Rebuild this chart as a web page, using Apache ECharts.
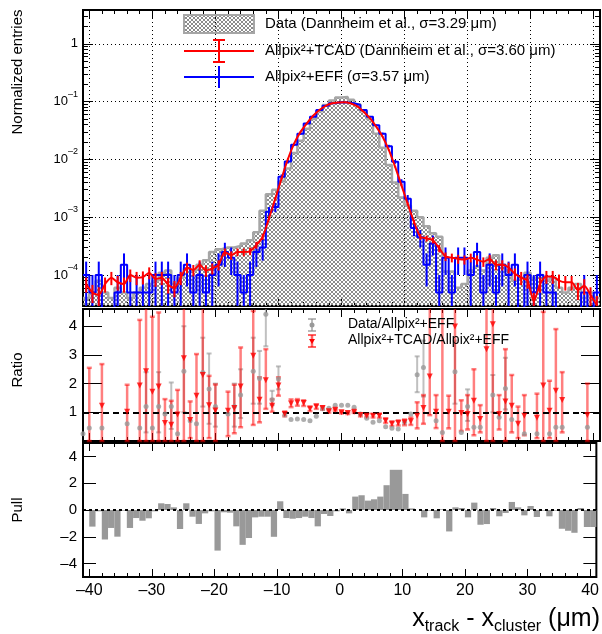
<!DOCTYPE html>
<html>
<head>
<meta charset="utf-8">
<script src="https://cdn.jsdelivr.net/npm/echarts@6.0.0/dist/echarts.min.js"></script>
<style>
html,body{margin:0;padding:0;background:#fff;}
#chart{width:602px;height:634px;}
</style>
</head>
<body>
<div id="chart"></div>
<script>
// ================= DATA =================
// bins of 1 um from -41 to 41 (lower edges)
const binLowEdges = [];
for (let b = -41; b <= 40; b++) binLowEdges.push(b);
const binWidth = 1;

// Data (Dannheim et al.), normalized entries per bin
const dataVals = [
  4e-5, 5e-5, 8e-5, 5e-5, 4e-5, 6e-5, 5e-5, 4e-5, 5e-5, 6e-5,
  7e-5, 8e-5, 1.1e-4, 1.2e-4, 7e-5, 9e-5, 1.3e-4, 1.2e-4, 1.5e-4, 1.8e-4,
  2.5e-4, 2.8e-4, 3e-4, 3e-4, 3.2e-4, 3.5e-4, 4e-4, 5.5e-4, 1.3e-3, 2.5e-3,
  3.0e-3, 4.2e-3, 7e-3, 0.013, 0.021, 0.034, 0.05, 0.068, 0.088, 0.105,
  0.118, 0.12, 0.108, 0.09, 0.068, 0.05, 0.028, 0.016, 0.008, 0.004,
  0.0022, 0.0016, 0.0013, 0.001, 7e-4, 5.3e-4, 4.6e-4, 1.15e-4, 1.15e-4, 6e-5,
  7e-5, 1.2e-4, 1.4e-4, 1.2e-4, 2e-4, 2.2e-4, 1.5e-4, 1.2e-4, 8e-5, 9e-5,
  1.1e-4, 9e-5, 1e-4, 8e-5, 9e-5, 6e-5, 5e-5, 6e-5, 7e-5, 4e-5,
  5e-5, 4e-5
];
// Allpix2 + EFF
const effVals = [
  1e-4, 5e-5, 1e-4, 0, 0, 5e-5, 1.5e-4, 5e-5, 5e-5, 5e-5,
  5e-5, 1e-4, 1e-4, 1e-4, 5e-5, 1e-4, 1.5e-4, 5e-5, 1e-4, 5e-5,
  1e-4, 1.5e-4, 2.5e-4, 2e-4, 1e-4, 5e-5, 1e-4, 2.5e-4, 3e-4, 1.25e-3,
  1.5e-3, 5e-3, 9.2e-3, 0.018, 0.028, 0.042, 0.055, 0.072, 0.085, 0.094,
  0.098, 0.097, 0.094, 0.088, 0.072, 0.055, 0.039, 0.028, 0.017, 0.0091,
  0.0041, 0.0021, 6.5e-4, 4.5e-4, 1.5e-4, 3.5e-4, 5e-5, 2e-4, 5e-5, 2e-4,
  2e-4, 1e-4, 2.5e-4, 5e-5, 1.5e-4, 5e-5, 1.5e-4, 1e-4, 1.5e-4, 0,
  1e-4, 5e-5, 1e-4, 5e-5, 5e-5, 0, 0, 0, 0, 5e-5,
  0, 5e-5
];
// Allpix2 + TCAD
const tcadVals = [
  7e-5, 5e-5, 4.5e-5, 7e-5, 9e-5, 7.5e-5, 7e-5, 1e-4, 9e-5, 9.2e-5,
  1.1e-4, 8.5e-5, 9e-5, 6.8e-5, 6e-5, 9e-5, 1.35e-4, 1.22e-4, 1.5e-4, 1.2e-4,
  1.3e-4, 1.5e-4, 2.5e-4, 2.2e-4, 2.5e-4, 2.5e-4, 2.6e-4, 3.3e-4, 4.6e-4, 9.6e-4,
  2.1e-3, 4.7e-3, 0.0102, 0.019, 0.030, 0.042, 0.057, 0.072, 0.085, 0.094,
  0.097, 0.098, 0.093, 0.083, 0.067, 0.052, 0.037, 0.025, 0.0146, 0.0075,
  0.0036, 1.7e-3, 8.3e-4, 4.6e-4, 4.3e-4, 4.0e-4, 2.9e-4, 2.1e-4, 2.0e-4, 1.9e-4,
  1.85e-4, 2.0e-4, 1.85e-4, 1.7e-4, 1.9e-4, 1.5e-4, 1.5e-4, 1.35e-4, 1.05e-4, 9e-5,
  8e-5, 3.5e-5, 7e-5, 9.4e-5, 9.4e-5, 8e-5, 7.5e-5, 7.5e-5, 5.5e-5, 6.5e-5,
  4.5e-5, 3e-5
];
// weight of one entry (for Poisson error bars)
const effEntryWeight = 5e-5;
const tcadEntryWeight = 6e-6;

// Ratio panel, points at x = -41 ... 40
const ratioX = binLowEdges;
const ratioDataVals = [
  0.25, 0.45, null, 0.45, null, null, null, 0.6, null, 0.45,
  1.2, 0.45, 1.2, 0.94, 1.2, 0.25, 2.43, 0.71, 0.6, 2.39,
  1.81, 1.2, null, 0.94, 1.2, 1.6, null, 2.43, 2.18, 4.42,
  1.44, 2.16, 0.91, 0.75, 0.77, 0.75, 0.71, 0.86, 1.12, 1.14,
  1.25, 1.25, 1.25, 1.18, 0.94, 0.79, 0.65, 0.71, 0.5, 0.44,
  0.42, 0.65, 0.94, 2.31, 2.56, null, 0.71, 0.3, null, 2.41,
  0.3, 1.2, 0.48, 0.48, null, 1.6, 0.83, 1.83, 0.75, null,
  0.25, null, 0.25, null, 0.25, 0.48, 0.48, null, null, null,
  0.48, null
];
const ratioDataLo = [
  null, null, null, null, null, null, null, null, null, null,
  0.3, null, 0.3, null, 0.42, null, 1.0, null, null, 1.2,
  0.6, 0.5, null, null, 0.5, 0.8, null, 1.3, 1.3, 3.3,
  1.25, 1.8, null, null, null, null, null, null, null, null,
  null, null, null, null, null, null, null, null, null, null,
  null, null, null, 1.7, 1.55, null, null, null, null, 1.3,
  null, 0.7, null, null, null, 1.0, null, 1.1, null, null,
  null, null, null, null, null, null, null, null, null, null,
  null, null
];
const ratioDataHi = [
  null, null, null, null, null, null, null, null, null, null,
  2.4, null, 2.4, null, 2.04, null, 4.0, null, null, 3.6,
  3.05, 2.0, null, null, 2.0, 2.5, null, 3.6, 3.14, 5.0,
  1.75, 2.6, null, null, null, null, null, null, null, null,
  null, null, null, null, null, null, null, null, null, null,
  null, null, null, 2.95, 3.5, null, null, null, null, 3.5,
  null, 1.8, null, null, null, 2.3, null, 2.9, null, null,
  null, null, null, null, null, null, null, null, null, null,
  null, null
];
const ratioTcadVals = [
  null, null, null, 1.23, null, null, null, 1.02, null, 1.93,
  2.43, 1.72, 1.9, 0.63, 0.57, 0.92, 2.88, 0.73, 1.58, 2.3,
  1.25, 1.06, null, 1.05, 1.15, 1.9, null, 2.97, 1.44, 2.12,
  1.23, 1.93, 0.94, 1.31, 1.34, 1.32, 1.12, 1.2, 1.15, 1.04,
  1.09, 1.0, 0.98, 1.02, 0.91, 0.88, 0.88, 0.88, 0.71, 0.6,
  0.63, 0.65, 0.69, 0.88, 1.15, 2.25, 1.02, 5.0, 1.02, 3.99,
  0.98, 0.94, 1.4, 0.77, 3.2, 4.07, 0.94, 1.38, 1.23, 0.6,
  0.88, null, 0.81, 1.93, 1.05, 1.75, 1.43, null, null, null,
  0.91, null
];
const ratioTcadLo = [
  null, 0, null, 0, null, null, null, 0, null, 0,
  0, 0, 0, 0, 0, 0, 0, 0.1, 0, 0,
  0.1, 0, null, 0.17, 0.27, 0.48, null, 0.56, 0.65, 1.12,
  1.02, 1.58, 0.86, 1.18, 1.23, 1.22, 1.04, 1.12, 1.09, 0.99,
  1.05, 0.96, 0.94, 0.98, 0.86, 0.83, 0.82, 0.81, 0.63, 0.52,
  0.54, 0.55, 0.56, 0.44, 0.6, 0.9, 0.45, 0, 0.44, 0,
  0.35, 0.4, 0.2, 0.3, 0, 0, 0.4, 0, 0.3, 0.1,
  0.2, null, 0.1, 0, 0.1, 0, 0.3, null, null, null,
  0, null
];
const ratioTcadHi = [
  null, 2.55, null, 2.68, null, null, null, 1.96, null, 4.22,
  4.7, 4.33, 4.48, 1.46, 1.4, 1.78, 4.7, 1.38, 3.03, 4.7,
  2.27, 1.97, null, 1.72, 1.96, 3.26, null, 4.53, 2.22, 3.2,
  1.46, 2.22, 1.03, 1.45, 1.46, 1.42, 1.2, 1.27, 1.21, 1.09,
  1.13, 1.04, 1.02, 1.06, 0.96, 0.93, 0.94, 0.95, 0.79, 0.68,
  0.72, 0.75, 0.82, 1.35, 1.6, 4.7, 1.6, 4.7, 1.58, 4.7,
  1.42, 1.6, 2.5, 1.25, 4.7, 4.7, 1.6, 3.2, 2.3, 1.2,
  1.6, null, 1.65, 4.5, 2.1, 3.9, 2.4, null, null, null,
  2.0, null
];

// Pull per bin
const pullVals = [
  0, -1.24, -0.1, -2.2, -1.34, -1.99, -0.05, -1.34, -0.6, -0.8,
  -0.62, -0.1, 0.5, 0.45, 0.2, -1.42, 0.5, -0.5, -1.04, -0.25,
  -0.1, -3.03, -0.17, -0.2, -1.22, -2.6, -2.09, -0.55, -0.5, -0.5,
  -2.0, 0.65, -0.6, -0.65, -0.6, -0.5, -0.6, -1.22, -0.3, -0.45,
  -0.1, 0.12, -0.25, 1.0, 1.1, 0.7, 0.8, 1.0, 1.85, 3.0,
  3.0, 1.2, 0.12, 0, -0.55, -0.05, -0.62, 0.05, -1.6, 0.2,
  0.15, -0.55, 0.55, -1.1, -1.05, 0.15, -0.47, -0.22, 0.6, 0.2,
  -0.4, 0.3, -0.52, -0.05, -0.47, -0.05, -1.4, -1.55, -1.7, 0.15,
  -1.27, -1.27
];

// tick labels
const xTickLabels = [-40, -30, -20, -10, 0, 10, 20, 30, 40];
const xMinorTicks = [];
for (let t = -40; t <= 40; t += 2) xMinorTicks.push(t);
const topDecades = [-4, -3, -2, -1, 0];          // log10 of 1e-4 ... 1
const ratioTicks = [1, 2, 3, 4];
const pullTicks = [-4, -2, 0, 2, 4];

// ================= LAYOUT / STYLE =================
const FONT = '"Liberation Sans", Arial, Helvetica, sans-serif';
const X_MIN = -41, X_MAX = 41;
const TOP_LOG_MIN = -4.536, TOP_LOG_MAX = 0.587;
const RATIO_MIN = 0, RATIO_MAX = 4.6;
const PULL_MIN = -5, PULL_MAX = 5;
const FLOOR = 1e-9;

const topMinor = [];
for (let d = -5; d <= 0; d++) for (let m = 2; m <= 9; m++) {
  const v = d + Math.log10(m);
  if (v > TOP_LOG_MIN && v < TOP_LOG_MAX) topMinor.push(v);
}

const hatchCanvas = (function () {
  const c = document.createElement('canvas'); c.width = 4; c.height = 4;
  const g = c.getContext('2d');
  g.strokeStyle = '#8c8c8c'; g.lineWidth = 1;
  g.beginPath(); g.moveTo(0, 0); g.lineTo(4, 4); g.moveTo(4, 0); g.lineTo(0, 4); g.stroke();
  return c;
})();
const hatch = { image: hatchCanvas, repeat: 'repeat' };

const grids = [
  { left: 83, top: 10, width: 517, height: 296 },
  { left: 83, top: 309, width: 517, height: 132 },
  { left: 83, top: 443, width: 517, height: 134 }
].map(g => Object.assign({ show: true, borderColor: '#000', borderWidth: 2, backgroundColor: 'rgba(0,0,0,0)' }, g));

const minusFmt = v => (v < 0 ? '\u2013' + (-v) : String(v));
const xAxes = [], yAxes = [];
function addX(grid, pos, ticks, len, extra) {
  xAxes.push(Object.assign({
    type: 'value', gridIndex: grid, position: pos, min: X_MIN, max: X_MAX,
    axisLine: { show: false, onZero: false },
    axisTick: { show: true, inside: true, length: len, customValues: ticks, lineStyle: { color: '#000', width: 1 } },
    axisLabel: { show: false }, splitLine: { show: false }
  }, extra || {}));
  return xAxes.length - 1;
}
function addY(grid, pos, min, max, ticks, len, extra) {
  yAxes.push(Object.assign({
    type: 'value', gridIndex: grid, position: pos, min: min, max: max,
    axisLine: { show: false, onZero: false },
    axisTick: { show: true, inside: true, length: len, customValues: ticks, lineStyle: { color: '#000', width: 1 } },
    axisLabel: { show: false }, splitLine: { show: false }
  }, extra || {}));
  return yAxes.length - 1;
}
const dotted = { show: true, lineStyle: { color: '#000', width: 1, type: [1, 3] } };

// top panel axes
const X_TOP = addX(0, 'bottom', xTickLabels, 8, { splitLine: dotted });
addX(0, 'bottom', xMinorTicks, 4);
addX(0, 'top', xTickLabels, 8);
addX(0, 'top', xMinorTicks, 4);
addY(0, 'left', TOP_LOG_MIN, TOP_LOG_MAX, topDecades, 10, {
  splitLine: dotted,
  axisLabel: {
    show: true, customValues: topDecades, margin: 5, color: '#000',
    formatter: v => (v === 0 ? '{b|1}' : '{b|10}{s|\u2013' + (-v) + '}'),
    rich: { b: { fontSize: 13, lineHeight: 24, fontFamily: FONT, color: '#000' },
            s: { fontSize: 9, lineHeight: 9, verticalAlign: 'top', fontFamily: FONT, color: '#000' } }
  }
});
addY(0, 'left', TOP_LOG_MIN, TOP_LOG_MAX, topMinor, 5);
addY(0, 'right', TOP_LOG_MIN, TOP_LOG_MAX, topDecades, 10);
addY(0, 'right', TOP_LOG_MIN, TOP_LOG_MAX, topMinor, 5);
yAxes.push({ type: 'log', logBase: 10, gridIndex: 0, min: Math.pow(10, TOP_LOG_MIN), max: Math.pow(10, TOP_LOG_MAX), show: false,
  axisLine: { onZero: false } });
const Y_TOP_DATA = yAxes.length - 1;

// ratio panel axes
const X_RATIO = addX(1, 'bottom', xTickLabels, 8);
addX(1, 'bottom', xMinorTicks, 4);
addX(1, 'top', xTickLabels, 8);
addX(1, 'top', xMinorTicks, 4);
const Y_RATIO = addY(1, 'left', RATIO_MIN, RATIO_MAX, ratioTicks, 19, {
  axisLabel: { show: true, customValues: ratioTicks, margin: 6, fontSize: 15, fontFamily: FONT, color: '#000' }
});
addY(1, 'right', RATIO_MIN, RATIO_MAX, ratioTicks, 19);

// pull panel axes
const X_PULL = addX(2, 'bottom', xTickLabels, 8, {
  axisLabel: { show: true, customValues: xTickLabels, margin: 6, fontSize: 16, fontFamily: FONT, color: '#000', formatter: minusFmt }
});
addX(2, 'bottom', xMinorTicks, 4);
addX(2, 'top', xTickLabels, 8);
addX(2, 'top', xMinorTicks, 4);
const Y_PULL = addY(2, 'left', PULL_MIN, PULL_MAX, pullTicks, 13, {
  axisLabel: { show: true, customValues: pullTicks, margin: 6, fontSize: 15, fontFamily: FONT, color: '#000', formatter: minusFmt }
});
addY(2, 'right', PULL_MIN, PULL_MAX, pullTicks, 13);

// ================= SERIES =================
function stepPoints(vals) {
  const pts = [];
  vals.forEach((v, i) => {
    const y = v > 0 ? v : FLOOR;
    pts.push([binLowEdges[i], y], [binLowEdges[i] + binWidth, y]);
  });
  return pts;
}
const centers = binLowEdges.map(b => b + binWidth / 2);

function errBarItem(color, width, cap, isLog) {
  return function (params, api) {
    const cs = params.coordSys;
    const top = cs.y, bot = cs.y + cs.height;
    const x = api.value(0), lo = api.value(1), hi = api.value(2);
    const px = api.coord([x, isLog ? Math.max(hi, FLOOR) : hi])[0];
    let y1 = (isLog && hi <= 0) ? bot : api.coord([x, hi])[1];
    let y2 = (isLog && lo <= 0) ? bot : api.coord([x, lo])[1];
    const capTop = y1 >= top && y1 <= bot;
    const capBot = y2 >= top && y2 <= bot;
    y1 = Math.max(top, Math.min(bot, y1));
    y2 = Math.max(top, Math.min(bot, y2));
    const st = { stroke: color, lineWidth: width };
    const ch = [{ type: 'line', shape: { x1: px, y1: y1, x2: px, y2: y2 }, style: st }];
    if (cap > 0) {
      if (capTop) ch.push({ type: 'line', shape: { x1: px - cap, y1: y1, x2: px + cap, y2: y1 }, style: st });
      if (capBot) ch.push({ type: 'line', shape: { x1: px - cap, y1: y2, x2: px + cap, y2: y2 }, style: st });
    }
    return { type: 'group', children: ch };
  };
}

const effErrData = [], tcadErrData = [];
effVals.forEach((v, i) => {
  if (v > 0) { const e = Math.sqrt(v * effEntryWeight); effErrData.push([centers[i], v - e, v + e]); }
});
tcadVals.forEach((v, i) => {
  if (v > 0) { const e = Math.sqrt(v * tcadEntryWeight); tcadErrData.push([centers[i], v - e, v + e]); }
});

const ratioDataPts = [], ratioTcadPts = [], ratioDataErr = [], ratioTcadErr = [];
ratioX.forEach((x, i) => {
  if (ratioDataVals[i] != null) ratioDataPts.push([x, ratioDataVals[i]]);
  if (ratioTcadVals[i] != null) ratioTcadPts.push([x, ratioTcadVals[i]]);
  if (ratioDataLo[i] != null) ratioDataErr.push([x, ratioDataLo[i], ratioDataHi[i]]);
  if (ratioTcadLo[i] != null) ratioTcadErr.push([x, ratioTcadLo[i], ratioTcadHi[i]]);
});

const pullData = pullVals.map((v, i) => [binLowEdges[i], binLowEdges[i] + binWidth, v]);

const series = [
  { type: 'line', name: 'data', xAxisIndex: X_TOP, yAxisIndex: Y_TOP_DATA, data: stepPoints(dataVals),
    symbol: 'none', clip: true, silent: true, z: 2,
    lineStyle: { color: '#a6a6a6', width: 2.5 }, areaStyle: { color: hatch, opacity: 1, origin: 'start' } },
  { type: 'line', name: 'eff', xAxisIndex: X_TOP, yAxisIndex: Y_TOP_DATA, data: stepPoints(effVals),
    symbol: 'none', clip: true, silent: true, z: 4, lineStyle: { color: '#0000ff', width: 2 } },
  { type: 'custom', name: 'effErr', xAxisIndex: X_TOP, yAxisIndex: Y_TOP_DATA, data: effErrData,
    encode: { x: 0, y: [1, 2] }, renderItem: errBarItem('#0000ff', 2, 0, true), silent: true, z: 4 },
  { type: 'custom', name: 'tcadErr', xAxisIndex: X_TOP, yAxisIndex: Y_TOP_DATA, data: tcadErrData,
    encode: { x: 0, y: [1, 2] }, renderItem: errBarItem('#ff0000', 2, 0, true), silent: true, z: 5 },
  { type: 'line', name: 'tcad', xAxisIndex: X_TOP, yAxisIndex: Y_TOP_DATA,
    data: tcadVals.map((v, i) => [centers[i], v]), smooth: 0.25,
    symbol: 'none', clip: true, silent: true, z: 6, lineStyle: { color: '#ff0000', width: 2 } },

  { type: 'custom', xAxisIndex: X_RATIO, yAxisIndex: Y_RATIO, data: ratioDataErr, encode: { x: 0, y: [1, 2] },
    renderItem: errBarItem('rgba(140,140,140,0.55)', 2, 2.5, false), silent: true, z: 3 },
  { type: 'custom', xAxisIndex: X_RATIO, yAxisIndex: Y_RATIO, data: ratioTcadErr, encode: { x: 0, y: [1, 2] },
    renderItem: errBarItem('rgba(255,0,0,0.5)', 2.5, 2.5, false), silent: true, z: 4 },
  { type: 'scatter', xAxisIndex: X_RATIO, yAxisIndex: Y_RATIO, data: ratioDataPts, symbol: 'circle', symbolSize: 5,
    itemStyle: { color: '#999999' }, silent: true, z: 5, clip: true },
  { type: 'scatter', xAxisIndex: X_RATIO, yAxisIndex: Y_RATIO, data: ratioTcadPts, symbol: 'triangle', symbolSize: 6,
    symbolRotate: 180, itemStyle: { color: '#ff0000' }, silent: true, z: 6, clip: true,
    markLine: { silent: true, symbol: ['none', 'none'], label: { show: false }, animation: false,
      lineStyle: { color: '#000', type: [6, 4], width: 2 }, data: [{ yAxis: 1 }] } },

  { type: 'custom', xAxisIndex: X_PULL, yAxisIndex: Y_PULL, data: pullData, encode: { x: [0, 1], y: 2 },
    silent: true, z: 3,
    renderItem: function (params, api) {
      const p0 = api.coord([api.value(0), 0]);
      const p1 = api.coord([api.value(1), api.value(2)]);
      return { type: 'rect', shape: { x: p0[0], y: Math.min(p0[1], p1[1]), width: p1[0] - p0[0], height: Math.abs(p1[1] - p0[1]) },
        style: { fill: '#999999' } };
    } },
  { type: 'scatter', xAxisIndex: X_PULL, yAxisIndex: Y_PULL, data: [], silent: true, z: 6,
    markLine: { silent: true, symbol: ['none', 'none'], label: { show: false }, animation: false,
      lineStyle: { color: '#000', type: [3, 3], width: 2 }, data: [{ yAxis: 0 }] } }
];

// ================= TEXT / LEGENDS =================
const T = (x, y, text, size, extra) => Object.assign({
  type: 'text', x: x, y: y, z: 100,
  style: { text: text, fontSize: size, fontFamily: FONT, fill: '#000', align: 'left', verticalAlign: 'middle' }
}, extra || {});
const L = (x1, y1, x2, y2, color, w) => ({ type: 'line', z: 100, shape: { x1, y1, x2, y2 }, style: { stroke: color, lineWidth: w } });

const graphics = [
  // top legend
  { type: 'rect', z: 100, shape: { x: 184, y: 15, width: 70, height: 18 }, style: { fill: hatch, stroke: '#a6a6a6', lineWidth: 2 } },
  T(265, 24, 'Data (Dannheim et al., \u03c3=3.29 \u03bcm)', 15),
  L(184, 51, 254, 51, '#ff0000', 2), L(219, 40, 219, 62, '#ff0000', 2),
  L(213, 40, 225, 40, '#ff0000', 2), L(213, 62, 225, 62, '#ff0000', 2),
  T(265, 51, 'Allpix\u00b2+TCAD (Dannheim et al., \u03c3=3.60 \u03bcm)', 15),
  L(184, 77, 254, 77, '#0000ff', 2), L(219, 66, 219, 88, '#0000ff', 2),
  T(265, 77, 'Allpix\u00b2+EFF (\u03c3=3.57 \u03bcm)', 15),
  // ratio legend
  L(312, 319, 312, 331, 'rgba(140,140,140,0.6)', 2), L(308, 319, 316, 319, 'rgba(140,140,140,0.6)', 2),
  L(308, 331, 316, 331, 'rgba(140,140,140,0.6)', 2),
  { type: 'circle', z: 101, shape: { cx: 312, cy: 325, r: 2.5 }, style: { fill: '#999999' } },
  L(312, 335, 312, 347, 'rgba(255,0,0,0.6)', 2.5), L(308, 335, 316, 335, 'rgba(255,0,0,0.6)', 2),
  L(308, 347, 316, 347, 'rgba(255,0,0,0.6)', 2),
  { type: 'polygon', z: 101, shape: { points: [[309, 339], [315, 339], [312, 344]] }, style: { fill: '#ff0000' } },
  T(348, 324, 'Data/Allpix\u00b2+EFF', 14),
  T(348, 340, 'Allpix\u00b2+TCAD/Allpix\u00b2+EFF', 14),
  // axis titles
  T(18, 72, 'Normalized entries', 15, { rotation: Math.PI / 2 }),
  T(18, 370, 'Ratio', 15, { rotation: Math.PI / 2 }),
  T(18, 510, 'Pull', 15, { rotation: Math.PI / 2 }),
  { type: 'text', x: 600, y: 635, z: 100,
    style: { text: '{m|x}{s|track}{m| - x}{s|cluster}{m| (\u03bcm)}', align: 'right', verticalAlign: 'bottom',
      rich: { m: { fontSize: 25, lineHeight: 32, fontFamily: FONT, fill: '#000', color: '#000' },
              s: { fontSize: 16, lineHeight: 12, verticalAlign: 'bottom', fontFamily: FONT, fill: '#000', color: '#000' } } } }
];
graphics.forEach(g => {
  if (g.type === 'text' && g.rotation) { g.style.align = 'center'; }
});

const chart = echarts.init(document.getElementById('chart'), null, { renderer: 'canvas' });
chart.setOption({
  animation: false,
  backgroundColor: '#ffffff',
  grid: grids,
  xAxis: xAxes,
  yAxis: yAxes,
  series: series,
  graphic: { elements: graphics }
});
</script>
</body>
</html>
